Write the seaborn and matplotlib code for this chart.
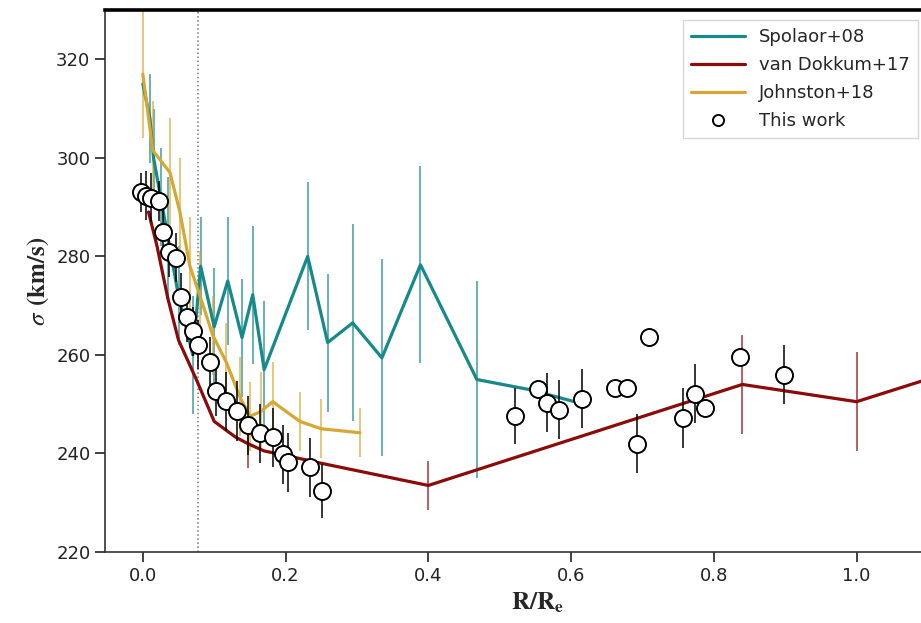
import numpy as np
import pandas as pd
import matplotlib
matplotlib.use("Agg")
import matplotlib.pyplot as plt
from matplotlib.lines import Line2D
import seaborn as sns

# ---------------- data ----------------
sp_x = [0.0, 0.01, 0.015, 0.025, 0.035, 0.05, 0.07, 0.081, 0.1, 0.119, 0.139, 0.154,
        0.17, 0.231, 0.259, 0.294, 0.335, 0.389, 0.468, 0.54, 0.605]
sp_y = [315, 308, 300, 292, 284, 272, 260, 278, 265.7, 275, 263.5, 272.2,
        257, 280, 262.5, 266.5, 259.4, 278.3, 255, 253, 250.5]
sp_err = [0, 9, 10, 10, 12, 10, 12, 10, 12, 13, 12, 14,
          14, 15, 14, 20, 20, 20, 20, 0, 0]

dk_x = [0.008, 0.02, 0.035, 0.05, 0.075, 0.1, 0.13, 0.147, 0.17, 0.2, 0.25, 0.4,
        0.84, 1.0, 1.12]
dk_y = [289, 282, 271.5, 263, 255, 246.5, 243.3, 242, 240.5, 239.6, 238, 233.5,
        254, 250.5, 256]
dk_err = [0, 0, 0, 0, 0, 0, 0, 5, 0, 0, 0, 5, 10, 10, 0]

jo_x = [0.0, 0.014, 0.038, 0.052, 0.066, 0.08, 0.098, 0.117, 0.136, 0.15, 0.165,
        0.182, 0.22, 0.25, 0.304]
jo_y = [317, 301.5, 297, 289, 278, 272, 264, 258.5, 251.5, 247.5, 248.5,
        250.5, 246.5, 245, 244.2]
jo_err = [13, 10, 11, 11, 10, 9, 8, 8, 8, 7, 8, 8, 6, 6, 5]

cw_x = [-0.002, 0.005, 0.011, 0.022, 0.028, 0.036, 0.047, 0.053, 0.062, 0.07, 0.078,
        0.094, 0.102, 0.117, 0.132, 0.147, 0.164, 0.182, 0.196, 0.203, 0.234, 0.251,
        0.521, 0.553, 0.567, 0.583, 0.616, 0.661, 0.678, 0.693, 0.709, 0.757, 0.773,
        0.788, 0.837, 0.899]
cw_y = [293, 292.3, 291.9, 291.2, 285, 280.8, 279.7, 271.7, 267.6, 264.8, 262.1,
        258.6, 252.6, 250.6, 248.6, 245.7, 244.1, 243.3, 239.8, 238.2, 237.2, 232.4,
        247.6, 253.1, 250.3, 248.9, 251.1, 253.3, 253.3, 242, 263.7, 247.2, 252.1,
        249.3, 259.6, 256]
cw_err = [4, 5, 5, 4, 5, 5, 5, 5, 5, 5, 5,
          5, 5, 6, 6, 6, 6, 6, 6, 6, 6, 5.5,
          5.6, 0, 6, 6, 6, 0, 0, 6, 0, 6, 6,
          0, 0, 6]

labels = ["Spolaor+08", "van Dokkum+17", "Johnston+18", "This work"]
colors = ["#16898a", "#8b0a0a", "#d6a833", "black"]
v_line_x = 0.078

# ---------------- plot ----------------
sns.set_style("ticks")
plt.rcParams["font.family"] = ["DejaVu Sans"]
plt.rcParams["mathtext.fontset"] = "stix"

fig = plt.figure(figsize=(9.21, 6.23), dpi=100)
ax = fig.add_axes([0.114, 0.114, 0.940, 0.870])

series = [(sp_x, sp_y, sp_err, colors[0]), (dk_x, dk_y, dk_err, colors[1]),
          (jo_x, jo_y, jo_err, colors[2])]
for (x, y, e, c), lab in zip(series, labels[:3]):
    df = pd.DataFrame({"x": x, "y": y})
    sns.lineplot(data=df, x="x", y="y", ax=ax, color=c, lw=2.3, sort=False,
                 estimator=None, zorder=3)
    xe = np.array(x); ye = np.array(y); ee = np.array(e, dtype=float)
    m = ee > 0
    ax.errorbar(xe[m], ye[m], yerr=ee[m], fmt="none", ecolor=c, elinewidth=1.3,
                alpha=0.7, zorder=2)

cx = np.array(cw_x); cy = np.array(cw_y); ce = np.array(cw_err, dtype=float)
m = ce > 0
ax.errorbar(cx[m], cy[m], yerr=ce[m], fmt="none", ecolor="black", elinewidth=1.3,
            alpha=0.85, zorder=4)
sns.scatterplot(x=cw_x, y=cw_y, ax=ax, s=150, facecolor="white", edgecolor="black",
                linewidth=1.4, zorder=5)

ax.axvline(v_line_x, color="#777777", ls=":", lw=1.1, zorder=1)

ax.set_xlim(-0.053, 1.16)
ax.set_ylim(220, 330)
ax.set_xticks([0.0, 0.2, 0.4, 0.6, 0.8, 1.0])
ax.set_yticks([220, 240, 260, 280, 300, 320])
ax.tick_params(axis="both", labelsize=13, length=7, width=1.2, direction="out",
               colors="#222222")
ax.set_xlabel(r"$\mathbf{R/R_e}$", fontsize=18, labelpad=4)
ax.set_ylabel(r"$\sigma$ $\mathbf{(km/s)}$", fontsize=18, labelpad=4)

for s in ["left", "bottom"]:
    ax.spines[s].set_linewidth(1.2)
    ax.spines[s].set_color("#333333")
ax.spines["top"].set_visible(True)
ax.spines["top"].set_linewidth(2.6)
ax.spines["top"].set_color("black")
ax.spines["right"].set_visible(True)

handles = [Line2D([0], [0], color=colors[0], lw=2.3),
           Line2D([0], [0], color=colors[1], lw=2.3),
           Line2D([0], [0], color=colors[2], lw=2.3),
           Line2D([0], [0], color="black", lw=0, marker="o", markersize=8,
                  markerfacecolor="white", markeredgewidth=1.4)]
leg = ax.legend(handles, labels, loc="upper right", bbox_to_anchor=(0.997, 0.968),
                bbox_transform=fig.transFigure, fontsize=13, frameon=True,
                edgecolor="#cccccc", fancybox=False, handlelength=3.0,
                labelspacing=0.55, borderpad=0.45, borderaxespad=0)

fig.savefig("out.png", dpi=100)
